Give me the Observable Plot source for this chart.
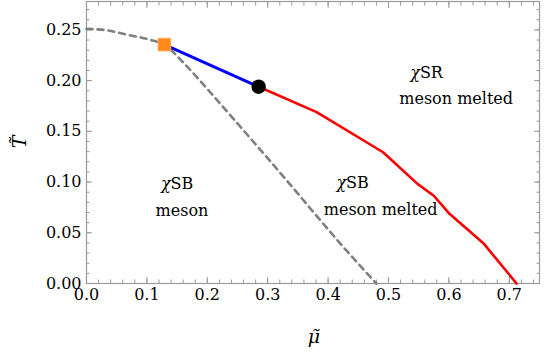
<!DOCTYPE html>
<html>
<head>
<meta charset="utf-8">
<script src="https://cdn.jsdelivr.net/npm/d3@7"></script>
<script src="https://cdn.jsdelivr.net/npm/@observablehq/plot@0.6"></script>
<style>
  html, body { margin: 0; padding: 0; background: #fff; }
  #chart svg { display: block; font-family: 'DejaVu Serif', 'Liberation Serif', serif; }
</style>
</head>
<body>
<div id="chart"></div>
<script>
// Dashed crossover curve (mu, T)
const dashedMu = [0, 0.035, 0.066, 0.1045, 0.128, 0.165, 0.206, 0.243, 0.284, 0.3366, 0.389, 0.4356, 0.480];
const dashedT  = [0.251, 0.2495, 0.2454, 0.2404, 0.2355, 0.2148, 0.1878, 0.1625, 0.1345, 0.0980, 0.0610, 0.0290, 0.0];

// Blue (first-order) line
const blueMu = [0.129, 0.285];
const blueT  = [0.2355, 0.194];

// Red line
const redMu = [0.285, 0.381, 0.491, 0.548, 0.575, 0.601, 0.658, 0.712];
const redT  = [0.194, 0.169, 0.1294, 0.0982, 0.0865, 0.0687, 0.0391, 0.0];

// Special points
const squareMu = [0.129], squareT = [0.2355];
const circleMu = [0.285], circleT = [0.194];

// Region labels
const labelText = ["χSR", "meson melted", "χSB", "meson", "χSB", "meson melted"];
const labelMu   = [0.563, 0.612, 0.150, 0.158, 0.4406, 0.487];
const labelT    = [0.208, 0.182, 0.0985, 0.072, 0.0995, 0.0729];

const xTicks = [0, 0.1, 0.2, 0.3, 0.4, 0.5, 0.6, 0.7];
const yTicks = [0, 0.05, 0.10, 0.15, 0.20, 0.25];
const xMinor = d3.range(0, 0.76, 0.02);
const yMinor = d3.range(0, 0.281, 0.01);

const zip = (a, b) => a.map((v, i) => ({mu: v, T: b[i]}));
const dashed = zip(dashedMu, dashedT);
const blue = zip(blueMu, blueT);
const red = zip(redMu, redT);
const labels = labelText.map((t, i) => ({text: t, mu: labelMu[i], T: labelT[i]}));

const font = "DejaVu Serif";
const frameColor = "#9a9a9a";
const fs = 16;

const chart = Plot.plot({
  width: 545,
  height: 354,
  marginLeft: 86,
  marginRight: 6,
  marginTop: 1,
  marginBottom: 71,
  x: {domain: [0, 0.75]},
  y: {domain: [0, 0.278]},
  marks: [
    Plot.frame({stroke: frameColor, strokeWidth: 1.2}),
    // minor ticks
    Plot.axisX(xMinor, {anchor: "bottom", tickSize: -3.5, text: null, stroke: frameColor, label: null}),
    Plot.axisX(xMinor, {anchor: "top", tickSize: -3.5, text: null, stroke: frameColor, label: null}),
    Plot.axisY(yMinor, {anchor: "left", tickSize: -3.5, text: null, stroke: frameColor, label: null}),
    Plot.axisY(yMinor, {anchor: "right", tickSize: -3.5, text: null, stroke: frameColor, label: null}),
    // major ticks
    Plot.axisX(xTicks, {anchor: "bottom", tickSize: -6, tickPadding: 11, stroke: frameColor, fill: "black",
      tickFormat: d3.format(".1f"), label: null, fontSize: fs, fontFamily: font}),
    Plot.axisX(xTicks, {anchor: "top", tickSize: -6, text: null, stroke: frameColor, label: null}),
    Plot.axisY(yTicks, {anchor: "left", tickSize: -6, tickPadding: 11, stroke: frameColor, fill: "black",
      tickFormat: d3.format(".2f"), label: null, fontSize: fs, fontFamily: font}),
    Plot.axisY(yTicks, {anchor: "right", tickSize: -6, text: null, stroke: frameColor, label: null}),
    Plot.line(dashed, {x: "mu", y: "T", stroke: "#808080", strokeWidth: 2.6, strokeDasharray: "6,5", curve: "monotone-x"}),
    Plot.line(red, {x: "mu", y: "T", stroke: "#ff0000", strokeWidth: 2.6}),
    Plot.line(blue, {x: "mu", y: "T", stroke: "#0000ff", strokeWidth: 3}),
    Plot.dot(zip(circleMu, circleT), {x: "mu", y: "T", r: 7.2, fill: "black"}),
    Plot.dot(zip(squareMu, squareT), {x: "mu", y: "T", r: 7.2, symbol: "square", fill: "#ff8c1a", stroke: "#ffb060", strokeWidth: 0.8}),
    Plot.text(labels, {x: "mu", y: "T", text: "text", fontSize: fs, fontFamily: font, fill: "black", className: "region-label"})
  ]
});

chart.setAttribute("font-family", font);

// axis titles
const svg = d3.select(chart);
svg.append("text")
  .attr("transform", "translate(26,142) rotate(-90)")
  .attr("text-anchor", "middle")
  .attr("font-family", font).attr("font-style", "italic").attr("font-size", 19)
  .text("T\u0303");
svg.append("text")
  .attr("x", 314).attr("y", 343)
  .attr("text-anchor", "middle")
  .attr("font-family", font).attr("font-style", "italic").attr("font-size", 19)
  .text("\u03bc\u0303");

// italic chi inside region labels
svg.selectAll(".region-label text").each(function() {
  const t = d3.select(this);
  const s = t.text();
  if (s.startsWith("χ")) {
    t.text(null);
    t.append("tspan").attr("font-style", "italic").text("χ");
    t.append("tspan").text(s.slice(1));
  }
});

document.getElementById("chart").appendChild(chart);
</script>
</body>
</html>
